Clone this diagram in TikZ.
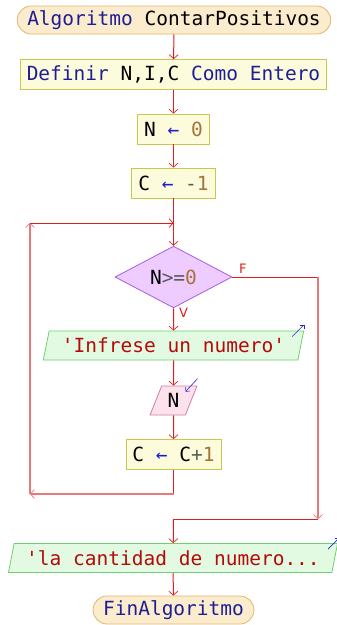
\documentclass[tikz,border=0pt]{standalone}
\usepackage{fontspec}
\setmonofont{DejaVu Sans Mono}
\newfontfamily\lblfont{DejaVu Sans}
\usetikzlibrary{shapes.geometric,arrows.meta}
\definecolor{kwblue}{RGB}{30,30,150}
\definecolor{asgblue}{RGB}{30,30,200}
\definecolor{numbrown}{RGB}{165,115,55}
\definecolor{strred}{RGB}{180,10,10}
\definecolor{opgray}{RGB}{90,90,90}
\definecolor{flowred}{RGB}{225,30,30}
\definecolor{loopred}{RGB}{235,120,120}
\definecolor{termfill}{RGB}{252,236,206}
\definecolor{termdraw}{RGB}{224,184,112}
\definecolor{procfill}{RGB}{252,252,220}
\definecolor{procdraw}{RGB}{200,200,80}
\definecolor{condfill}{RGB}{238,204,255}
\definecolor{conddraw}{RGB}{160,96,224}
\definecolor{outfill}{RGB}{226,250,226}
\definecolor{outdraw}{RGB}{112,208,112}
\definecolor{infill}{RGB}{253,226,238}
\definecolor{indraw}{RGB}{208,128,160}
\definecolor{iconblue}{RGB}{40,40,200}
\newcommand{\kw}[1]{\textcolor{kwblue}{#1}}
\newcommand{\asg}{\textcolor{asgblue}{←}}
\newcommand{\num}[1]{\textcolor{numbrown}{#1}}
\newcommand{\str}[1]{\textcolor{strred}{#1}}
\newcommand{\op}[1]{\textcolor{opgray}{#1}}
\begin{document}
\begin{tikzpicture}[x=1pt, y=-1pt,
  every node/.style={font=\ttfamily\fontsize{19.5}{22}\selectfont},
  term/.style={draw=termdraw, fill=termfill, line width=0.8pt, rounded corners=14pt, minimum height=28pt, inner xsep=10pt, inner ysep=0pt},
  proc/.style={draw=procdraw, fill=procfill, line width=0.8pt, minimum height=30pt, inner xsep=6.5pt, inner ysep=0pt},
  cond/.style={diamond, draw=conddraw, fill=condfill, line width=0.8pt, minimum width=117pt, minimum height=60pt, inner sep=0pt},
  outp/.style={trapezium, trapezium left angle=71, trapezium right angle=109, trapezium stretches=true, draw=outdraw, fill=outfill, line width=0.8pt, minimum height=29pt, inner sep=0pt},
  inp/.style={trapezium, trapezium left angle=68, trapezium right angle=112, trapezium stretches=true, draw=indraw, fill=infill, line width=0.8pt, minimum height=29pt, inner sep=0pt},
  lbl/.style={font=\lblfont\fontsize{13}{15}\selectfont, text=flowred, inner sep=0pt},
  barb/.tip={Straight Barb[length=4pt, width=9pt, line width=0.7pt]},
  flow/.style={draw=flowred, line width=1pt, -barb},
  flowline/.style={draw=flowred, line width=1pt},
  loopflow/.style={draw=loopred, line width=1.2pt, -barb},
  icon/.style={draw=iconblue, line width=0.6pt, -{Straight Barb[length=3pt, width=6pt, line width=0.5pt]}}]
\path[fill=white, use as bounding box] (0,0) rectangle (337,625);

% blocks
\node[term] (start) at (174,20) {\kw{Algoritmo} ContarPositivos};
\node[proc] (defs) at (173.5,74.5) {\kw{Definir} N,I,C \kw{Como Entero}};
\node[proc] (setn) at (173.5,129) {N \asg{} \num{0}};
\node[proc] (setc) at (173.5,183) {C \asg{} \op{-}\num{1}};
\node[cond] (cond) at (173.5,277) {N\op{>=}\num{0}};
\node[outp, minimum width=261pt] (askn) at (173.5,345.5) {\str{'Infrese un numero'}};
\node[inp, minimum width=47pt] (readn) at (173.5,400.5) {N};
\node[proc] (incc) at (173.5,454.5) {C \asg{} C\op{+}\num{1}};
\node[outp, minimum width=330pt] (shown) at (173,558) {\str{'la cantidad de numero...}};
\node[term] (stop) at (173.5,610) {\kw{FinAlgoritmo}};

% branch labels
\node[lbl, anchor=north west] (vlbl) at (179,308) {V};
\node[lbl, anchor=south west] (flbl) at (239,274) {F};

% bend points
\coordinate (join) at (173.5,223);
\coordinate (looptl) at (30,223);
\coordinate (loopbl) at (30,494);
\coordinate (loopbr) at (173.5,494);
\coordinate (fr) at (318,277);
\coordinate (fb) at (318,519);
\coordinate (fjoin) at (173.5,519);

% main flow
\draw[flow] (start) -- (defs);
\draw[flow] (defs) -- (setn);
\draw[flow] (setn) -- (setc);
\draw[flow] (setc) -- (cond);
\draw[flow] (cond) -- (askn);
\draw[flow] (askn) -- (readn);
\draw[flow] (readn) -- (incc);

% loop back
\draw[flowline] (incc) -- (loopbr);
\draw[loopflow] (loopbr) -- (loopbl);
\draw[loopflow] (loopbl) -- (looptl);
\draw[flow] (looptl) -- (join);

% exit
\draw[flowline] (cond.east) -- (fr);
\draw[loopflow] (fr) -- (fb);
\draw[flowline] (fb) -- (fjoin);
\draw[flow] (fjoin) -- (shown);
\draw[flow] (shown) -- (stop);

% i/o icons
\draw[icon] ([shift={(-12,6)}]askn.top right corner) -- ([shift={(0,-6)}]askn.top right corner);
\draw[icon] ([shift={(0,-7)}]readn.top right corner) -- ([shift={(-12,6)}]readn.top right corner);
\draw[icon] ([shift={(-10,6)}]shown.top right corner) -- ([shift={(1,-5)}]shown.top right corner);
\end{tikzpicture}
\end{document}
